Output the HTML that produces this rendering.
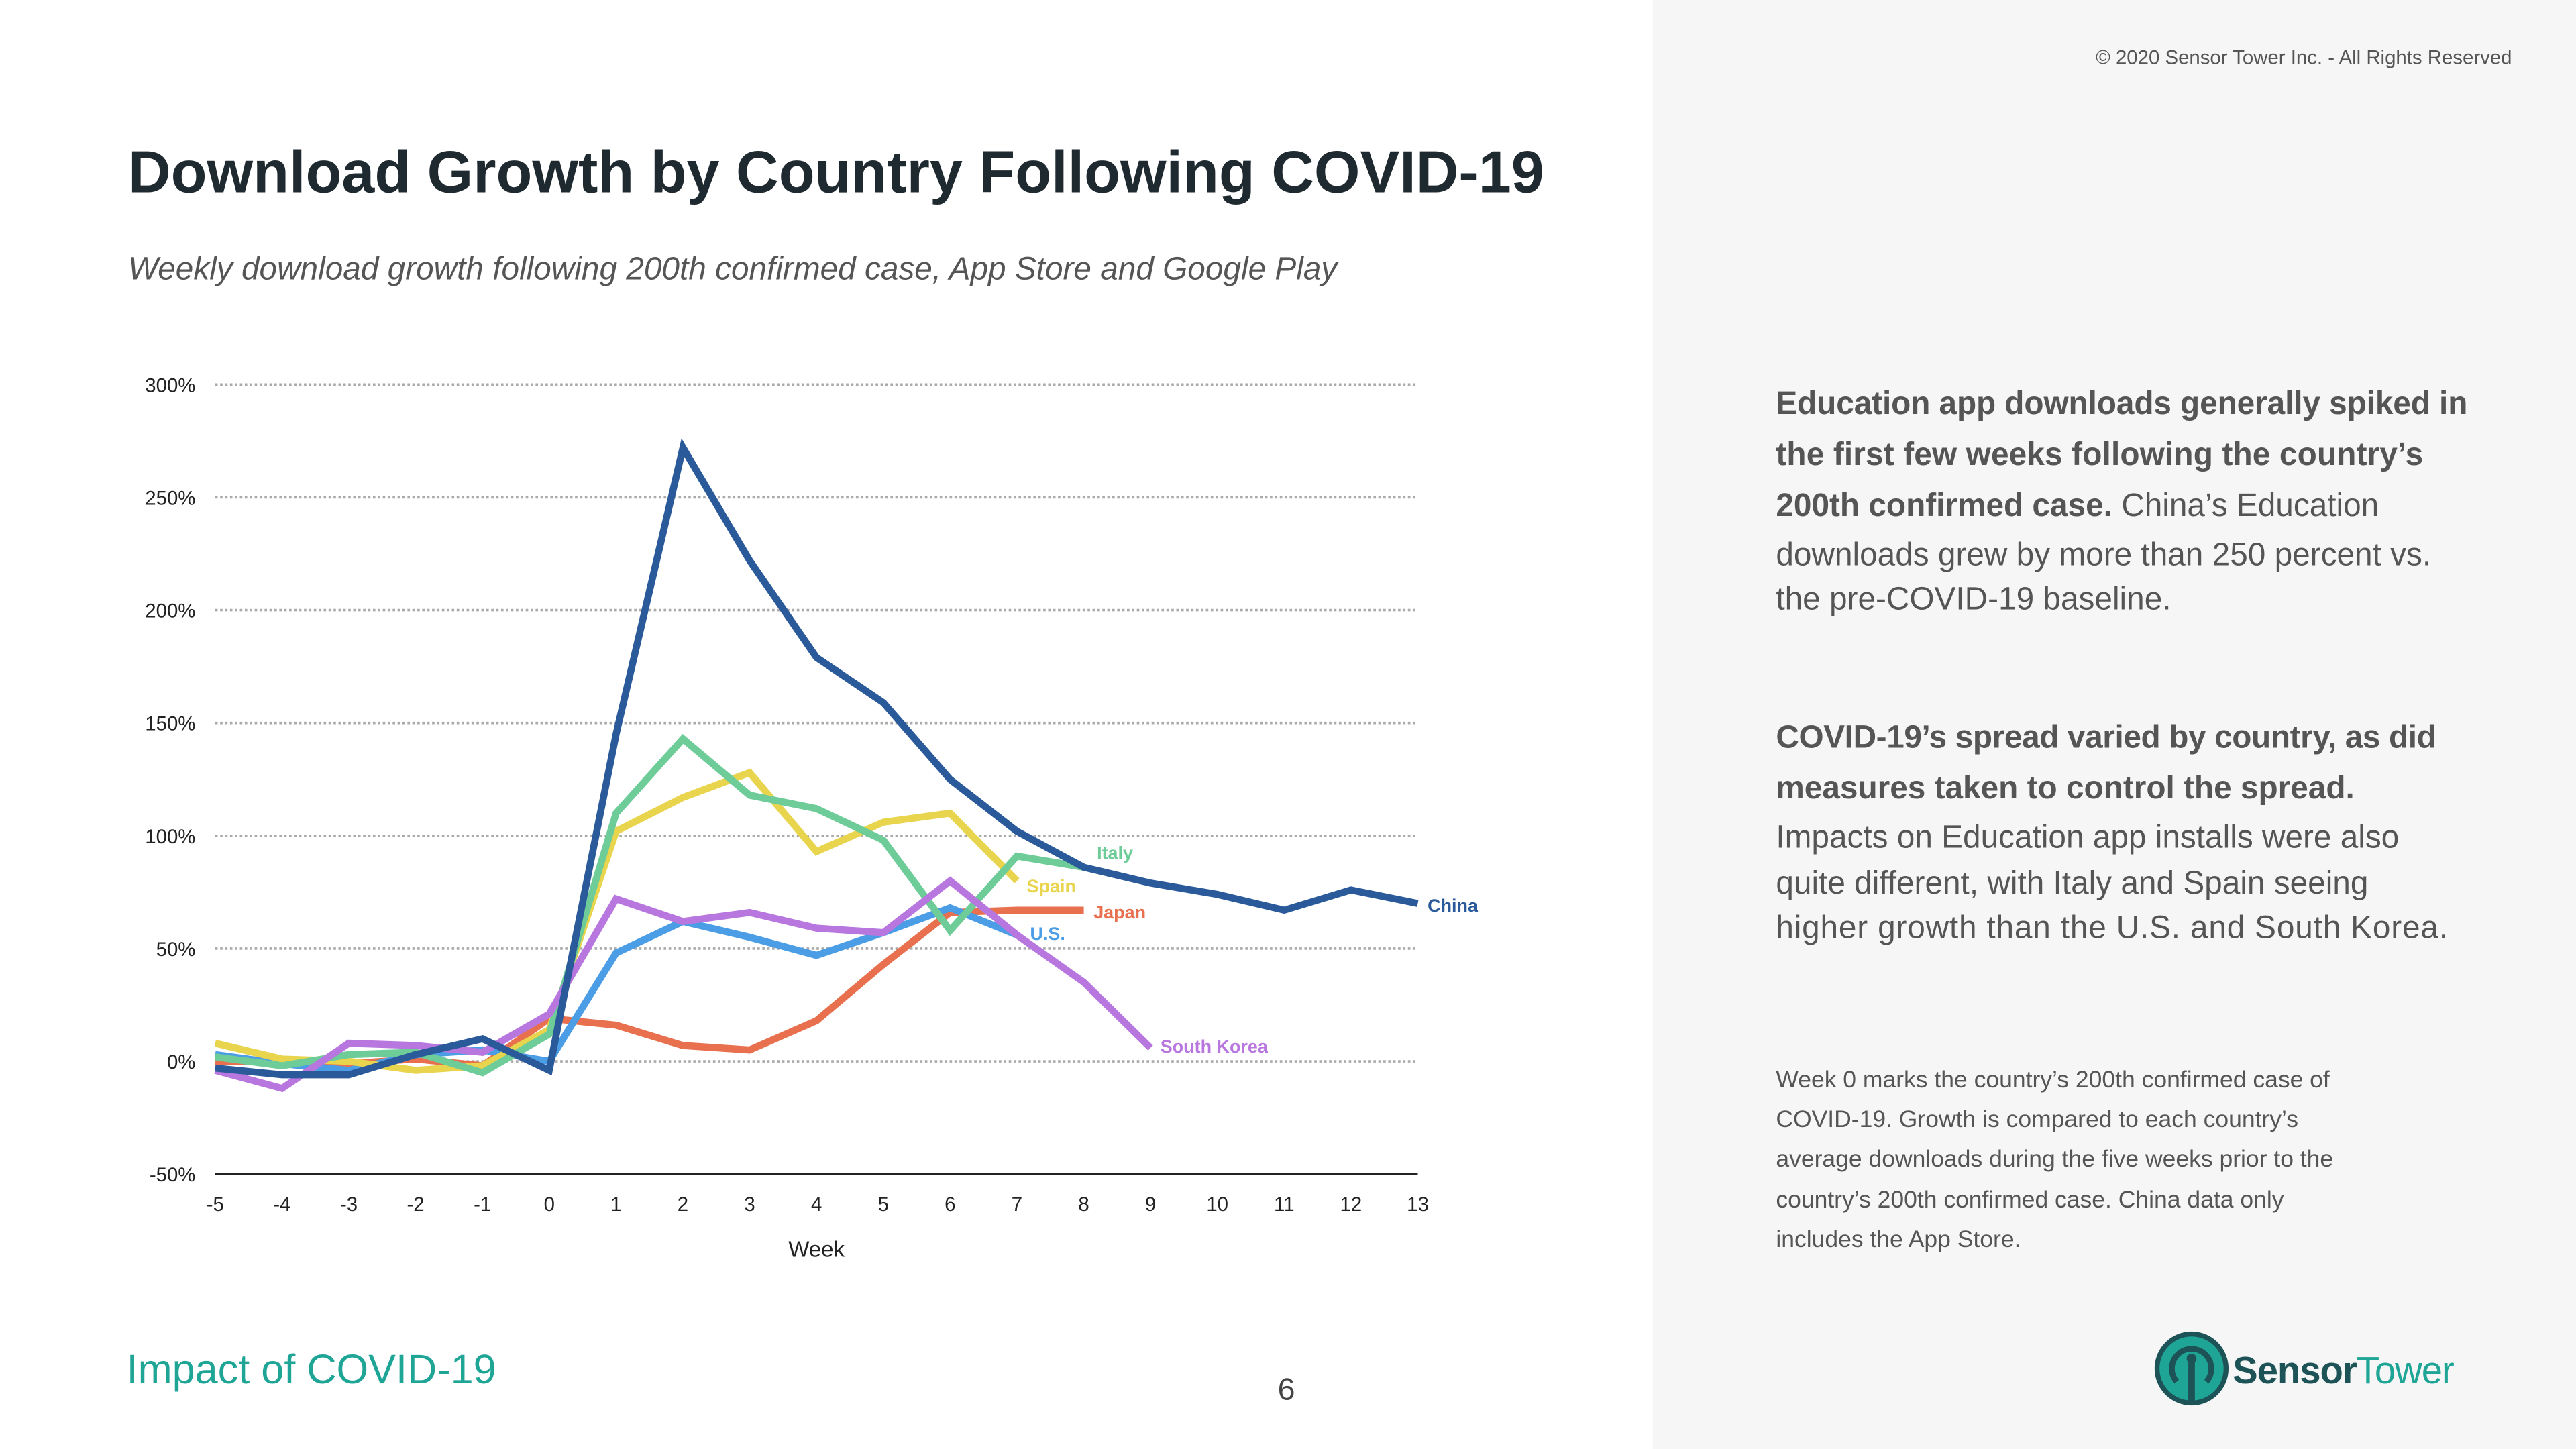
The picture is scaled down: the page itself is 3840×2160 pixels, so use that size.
<!DOCTYPE html>
<html><head><meta charset="utf-8"><style>
html,body{margin:0;padding:0;background:#fff}
svg{display:block}
text{font-family:"Liberation Sans",sans-serif}
</style></head><body>
<svg id="root" width="3840" height="2160" viewBox="0 0 1568 882" xmlns="http://www.w3.org/2000/svg">
<rect x="0" y="0" width="1568" height="882" fill="#ffffff"/>
<rect x="1006" y="0" width="562" height="882" fill="#f6f6f6"/>
<text x="1529" y="39" font-size="12" fill="#555" text-anchor="end">© 2020 Sensor Tower Inc. - All Rights Reserved</text>
<text x="78" y="117" font-size="36" font-weight="bold" fill="#1f2a30">Download Growth by Country Following COVID-19</text>
<text x="78" y="170" font-size="19.5" font-style="italic" fill="#555">Weekly download growth following 200th confirmed case, App Store and Google Play</text>
<g id="chart"></g>
<g font-size="19.5" fill="#555">
<text x="1081" y="252" font-weight="bold" textLength="421">Education app downloads generally spiked in</text>
<text x="1081" y="283" font-weight="bold" textLength="394">the first few weeks following the country’s</text>
<text x="1081" y="314"><tspan font-weight="bold">200th confirmed case.</tspan> China’s Education</text>
<text x="1081" y="344">downloads grew by more than 250 percent vs.</text>
<text x="1081" y="371">the pre-COVID-19 baseline.</text>
<text x="1081" y="455" font-weight="bold" textLength="402">COVID-19’s spread varied by country, as did</text>
<text x="1081" y="486" font-weight="bold">measures taken to control the spread.</text>
<text x="1081" y="516">Impacts on Education app installs were also</text>
<text x="1081" y="544">quite different, with Italy and Spain seeing</text>
<text x="1081" y="571" textLength="409">higher growth than the U.S. and South Korea.</text>
</g>
<g font-size="14.5" fill="#555">
<text x="1081" y="662">Week 0 marks the country’s 200th confirmed case of</text>
<text x="1081" y="686">COVID-19. Growth is compared to each country’s</text>
<text x="1081" y="710">average downloads during the five weeks prior to the</text>
<text x="1081" y="735">country’s 200th confirmed case. China data only</text>
<text x="1081" y="759">includes the App Store.</text>
</g>
<text x="77" y="842" font-size="25" fill="#1fa596">Impact of COVID-19</text>
<text x="783" y="852" font-size="19" fill="#444" text-anchor="middle">6</text>
<g>
<circle cx="1334" cy="833" r="21" fill="#1fa596" stroke="#1d5357" stroke-width="3"/>
<path d="M1325 841 A12 12 0 1 1 1343 841" fill="none" stroke="#1d5357" stroke-width="3.5"/>
<rect x="1332" y="826" width="4" height="27" fill="#1d5357"/>
<circle cx="1334" cy="827" r="3" fill="#1d5357"/>
<text x="1359" y="842" font-size="23" font-weight="bold" fill="#1d5357" textLength="135">Sensor<tspan font-weight="normal" fill="#1fa596">Tower</tspan></text>
</g>
</svg>
<script>
const weeks = [-5,-4,-3,-2,-1,0,1,2,3,4,5,6,7,8,9,10,11,12,13];
const yTicks = [-50,0,50,100,150,200,250,300];
const china = [-3,-6,-6,3,10,-4,145,272,222,179,159,125,102,86,79,74,67,76,70];
const italy = [2,-2,3,4,-5,12,110,143,118,112,98,58,91,86];
const spain = [8,1,0,-4,-2,14,102,117,128,93,106,110,80];
const japan = [0,0,-1,1,-2,19,16,7,5,18,43,66,67,67];
const us = [3,-1,-4,3,5,0,48,62,55,47,57,68,56];
const southKorea = [-4,-12,8,7,4,21,72,62,66,59,57,80,56,35,6];

const NS='http://www.w3.org/2000/svg';
const g=document.getElementById('chart');
const x0=131,x1=863,yZero=646,perPct=1.373;
const X=w=>x0+(w-weeks[0])*(x1-x0)/(weeks[weeks.length-1]-weeks[0]);
const Y=v=>yZero-v*perPct;
function mk(tag,attrs){const e=document.createElementNS(NS,tag);for(const k in attrs)e.setAttribute(k,attrs[k]);g.appendChild(e);return e;}
yTicks.forEach(t=>{
  if(t!==-50){const l=mk('line',{x1:x0,x2:x1,y1:Y(t),y2:Y(t),stroke:'#aaa','stroke-width':1.5,'stroke-dasharray':'1.5 1.5'});
  
  }
  const tx=mk('text',{x:119,y:Y(t)+4.5,'font-size':12,fill:'#222','text-anchor':'end'});tx.textContent=t+'%';
  
  
});
const ax=mk('line',{x1:x0,x2:x1,y1:Y(-50),y2:Y(-50),stroke:'#222','stroke-width':1.3});


weeks.forEach(w=>{const t=mk('text',{x:X(w),y:737,'font-size':12,fill:'#222','text-anchor':'middle'});t.textContent=w;
  
  });
const xt=mk('text',{x:497,y:765,'font-size':13.5,fill:'#222','text-anchor':'middle'});xt.textContent='Week';


const series=[
 ['japan',japan,'#e8704e','Japan',6,5],
 ['us',us,'#4b9de6','U.S.',8,3],
 ['spain',spain,'#e8d44d','Spain',6,7],
 ['italy',italy,'#6dcc98','Italy',8,-5],
 ['south-korea',southKorea,'#b877de','South Korea',6,3],
 ['china',china,'#2b5a9a','China',6,5]];
series.forEach(([id,vals,col,lab,dx,dy])=>{
  const pts=vals.map((v,i)=>X(weeks[i]).toFixed(1)+','+Y(v).toFixed(1)).join(' ');
  const p=mk('polyline',{points:pts,fill:'none',stroke:col,'stroke-width':4.3,'stroke-linejoin':'miter'});
  
  
  const n=vals.length-1;
  const t=mk('text',{x:X(weeks[n])+dx,y:Y(vals[n])+dy,'font-size':11,'font-weight':'bold',fill:col});t.textContent=lab;
  
  
});
</script>
</body></html>
